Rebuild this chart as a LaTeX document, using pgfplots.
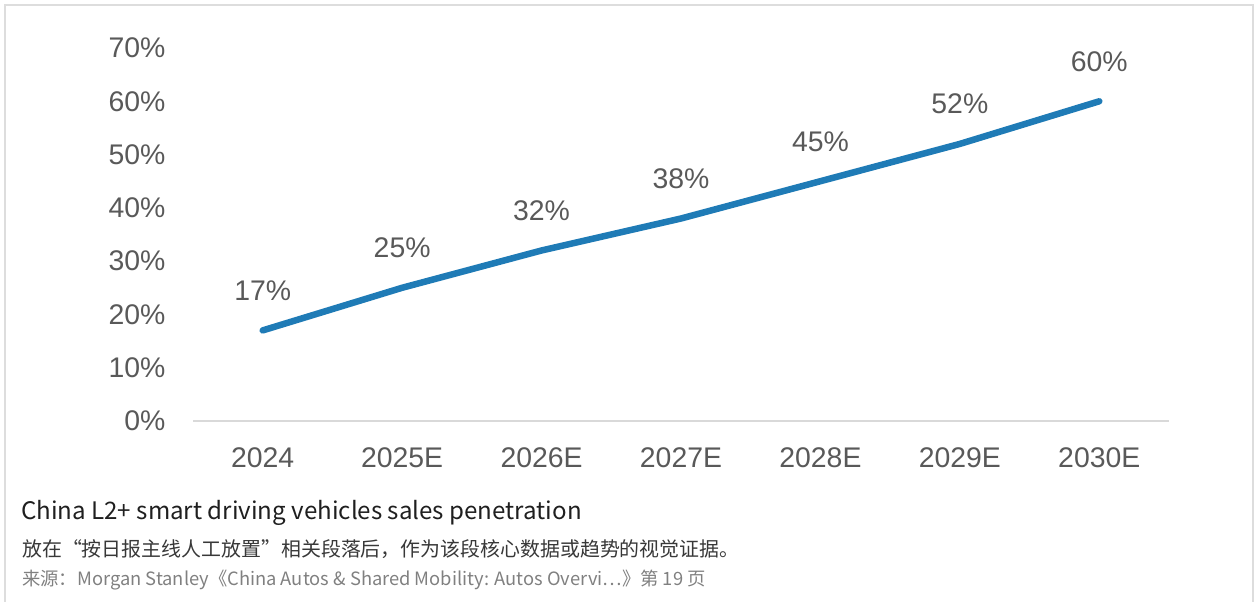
\documentclass[border=0pt]{standalone}
\usepackage{pgfplots}
\pgfplotsset{compat=1.18}
\usepackage{fontspec}
\setmainfont{Liberation Sans}
\newfontfamily\cjk{Noto Sans CJK SC}
\definecolor{linec}{HTML}{1F7BB6}
\definecolor{txtc}{HTML}{595959}
\definecolor{gridc}{HTML}{D9D9D9}
\definecolor{framec}{HTML}{DDDDDD}
\begin{document}
\begin{tikzpicture}[x=1bp,y=1bp]
\useasboundingbox (0,0) rectangle (1256,602);
\draw[framec,line width=1.5bp] (5,0) -- (5,597) -- (1253,597) -- (1253,0);
\begin{axis}[
  at={(193bp,181bp)}, anchor=south west,
  scale only axis, width=976bp, height=373bp,
  xmin=-0.5, xmax=6.5, ymin=0, ymax=70,
  axis x line*=bottom, axis y line*=left,
  y axis line style={draw=none},
  x axis line style={gridc, line width=2.5bp, -},
  major tick length=0pt,
  xtick={0,...,6},
  xticklabels={2024,2025E,2026E,2027E,2028E,2029E,2030E},
  ytick={0,10,...,70},
  yticklabels={0\%,10\%,20\%,30\%,40\%,50\%,60\%,70\%},
  tick label style={font=\fontsize{28.5}{31}\selectfont, text=txtc},
  yticklabel style={anchor=east, xshift=-24bp},
  xticklabel style={anchor=north, yshift=-23bp},
  clip=false,
  nodes near coords={\pgfmathprintnumber[assume math mode=true]{\pgfplotspointmeta}\%},
  every node near coord/.append style={font=\fontsize{28.5}{31}\selectfont, text=txtc, anchor=base, yshift=30bp},
]
\addplot[linec, line width=6.5bp, line cap=round, line join=round] coordinates {
  (0,17) (1,25) (2,32) (3,38) (4,45) (5,52) (6,60)
};
\end{axis}
\node[anchor=base west, inner sep=0, text=black!88, font=\cjk\fontsize{24.2}{28}\selectfont] at (21,82) {China L2+ smart driving vehicles sales penetration};
\node[anchor=base west, inner sep=0, text=black!78, font=\cjk\fontsize{20}{24}\selectfont] at (22,45) {放在“按日报主线人工放置”相关段落后，作为该段核心数据或趋势的视觉证据。};
\node[anchor=base west, inner sep=0, text=black!50, font=\cjk\fontsize{18.4}{22}\selectfont] at (22,16) {来源：Morgan Stanley《China Autos \& Shared Mobility: Autos Overvi…》第 19 页};
\end{tikzpicture}
\end{document}
